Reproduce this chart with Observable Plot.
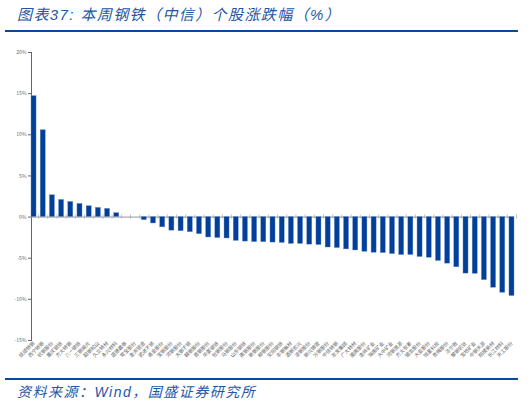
<!DOCTYPE html>
<html><head><meta charset="utf-8">
<script src="https://cdn.jsdelivr.net/npm/d3@7"></script>
<script src="https://cdn.jsdelivr.net/npm/@observablehq/plot@0.6"></script>
<style>
body{margin:0;background:#fff;width:532px;height:403px;position:relative;overflow:hidden;font-family:"Liberation Sans","Noto Sans CJK SC",sans-serif;}
#title{position:absolute;left:17px;top:3px;font-size:15px;letter-spacing:1.4px;font-style:italic;color:#2456a4;white-space:nowrap;font-family:"Liberation Sans","Noto Sans CJK SC",sans-serif;}
.rule{position:absolute;left:5px;width:513px;height:2px;background:#0b4a9b;}
#chart{position:absolute;left:0;top:35px;}
#foot{position:absolute;left:17px;top:381px;font-size:14px;letter-spacing:1.5px;font-style:italic;color:#2456a4;white-space:nowrap;}
</style></head>
<body>
<div id="title">图表37:&nbsp;本周钢铁（中信）个股涨跌幅（%）</div>
<div class="rule" style="top:30px"></div>
<div id="chart"></div>
<div class="rule" style="top:378px"></div>
<div id="foot">资料来源：Wind，国盛证券研究所</div>
<script>
const names = ["抚顺特钢","西宁特钢","杭钢股份","重庆钢铁","方大特钢","八一钢铁","三钢闽光","韶钢松山","久立特材","永兴材料",
"盛德鑫泰","常宝股份","金洲管道","武进不锈","甬金股份","宝钢股份","河钢股份","太钢不锈","鞍钢股份","首钢股份",
"华菱钢铁","包钢股份","马钢股份","山东钢铁","南钢股份","新钢股份","柳钢股份","安阳钢铁","本钢板材","酒钢宏兴",
"凌钢股份","新兴铸管","沙钢股份","中信特钢","友发集团","广大特材","图南股份","金岭矿业","海南矿业","大中矿业",
"河钢资源","方大炭素","银龙股份","大业股份","恒星科技","贵绳股份","法尔胜","攀钢钒钛","宝地矿业","中钢天源",
"翔楼新材","长江材料","天工股份"];
const values = [14.7,10.55,2.65,2.08,1.84,1.6,1.32,1.12,1.0,0.48,
0,0,-0.38,-0.78,-1.25,-1.65,-1.72,-1.84,-2.08,-2.48,
-2.55,-2.6,-2.9,-2.98,-3.05,-3.05,-3.1,-3.15,-3.27,-3.27,
-3.35,-3.4,-3.7,-3.77,-3.93,-4.06,-4.22,-4.34,-4.38,-4.5,
-4.62,-4.62,-4.86,-4.94,-5.34,-5.66,-6.1,-6.87,-6.9,-7.67,
-8.59,-9.2,-9.6];
const yTicks = [-15,-10,-5,0,5,10,15,20];
const data = names.map((n,i)=>({name:n, value:values[i]}));

const chart = Plot.plot({
  width: 532, height: 338,
  marginTop: 17, marginBottom: 33, marginLeft: 31, marginRight: 18,
  style: {fontFamily: "'Noto Sans CJK SC','Liberation Sans',sans-serif", fontSize: "5px", color: "#666", background: "#fff"},
  x: {domain: names, paddingInner: 0.45, paddingOuter: 0, round: false, tickRotate: -45, tickSize: 0, tickPadding: 2, label: null},
  y: {domain: [-15, 20], ticks: yTicks, tickFormat: d => d + "%", tickSize: 3, tickPadding: 2, label: null, line: true},
  marks: [
    Plot.ruleY([0], {stroke: "#999", strokeWidth: 1}),
    Plot.ruleX(names, {x: d => d, y1: -0.25, y2: 0.25, dx: 4.56, stroke: "#999", strokeWidth: 0.6}),
    Plot.barY(data, {x: "name", y: "value", fill: "#013f99", stroke: "#6f93cf", strokeWidth: 0.4})
  ]
});
document.getElementById("chart").appendChild(chart);
</script>
</body></html>
